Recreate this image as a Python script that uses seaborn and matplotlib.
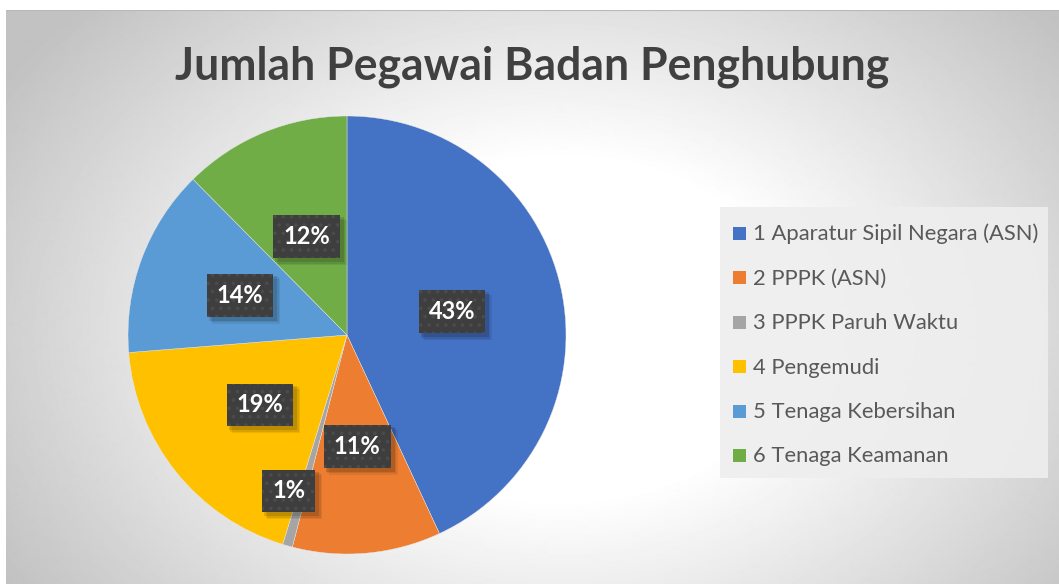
import numpy as np
import matplotlib
matplotlib.use("Agg")
import matplotlib.pyplot as plt
import seaborn as sns
from matplotlib.patches import Rectangle
from matplotlib.transforms import IdentityTransform

# ---- data ----
title = "Jumlah Pegawai Badan Penghubung"
categories = ["1 Aparatur Sipil Negara (ASN)", "2 PPPK (ASN)", "3 PPPK Paruh Waktu",
              "4 Pengemudi", "5 Tenaga Kebersihan", "6 Tenaga Keamanan"]
counts = [59, 15, 1, 26, 19, 17]
colors = ["#4472C4", "#ED7D31", "#A5A5A5", "#FFC000", "#5B9BD5", "#70AD47"]

# ---- style ----
sns.set_style("white")
plt.rcParams['font.family'] = ['Lato', 'DejaVu Sans']
plt.rcParams['hatch.linewidth'] = 1.4
palette = sns.color_palette(colors)

W, H = 1059, 585
fig = plt.figure(figsize=(W / 100, H / 100), dpi=100)
fig.patch.set_facecolor('white')
renderer = fig.canvas.get_renderer()

# ---- background radial gradient (chart area) ----
x0, y0 = 6, 10
bw, bh = W - x0, H - y0
bg = fig.add_axes([x0 / W, 0, bw / W, bh / H])
yy, xx = np.mgrid[0:bh, 0:bw]
cx, cy = 560 - x0, 330 - y0
r = np.sqrt(((xx - cx) / 520.0) ** 2 + ((yy - cy) / 380.0) ** 2)
t = np.clip((r - 0.45) / 0.8, 0, 1)
v = 1.0 - 0.24 * t
bg.imshow(v, cmap='gray', vmin=0, vmax=1, aspect='auto', interpolation='bilinear')
bg.axhline(0, color='#b8b8b8', lw=1.5)
bg.set_xlim(0, bw)
bg.set_ylim(bh, 0)
bg.axis('off')

# ---- title ----
tt = fig.text(532 / W, 1 - 80 / H, title, ha='center', va='baseline',
              fontsize=30, fontweight='bold', color='#404040')
bb = tt.get_window_extent(renderer)
tt.set_fontsize(30 * 713 / bb.width)

# ---- legend (pixel-coordinate overlay) ----
lax = fig.add_axes([0, 0, 1, 1])
lax.set_xlim(0, W)
lax.set_ylim(H, 0)
lax.axis('off')
lax.add_patch(Rectangle((720, 207), 328, 271, facecolor='#eeeeee', alpha=0.9,
                        edgecolor='none'))
row0, step = 233, 44.5
texts = []
for i, (lab, col) in enumerate(zip(categories, palette)):
    yc = row0 + i * step
    lax.add_patch(Rectangle((733, yc - 6.5), 13, 13, facecolor=col, edgecolor='none'))
    texts.append(lax.text(753, yc + 1, lab, ha='left', va='center', fontsize=15,
                          color='#595959'))
bb = texts[0].get_window_extent(renderer)
fs = 15 * 286 / bb.width
for tx in texts:
    tx.set_fontsize(fs)

# ---- pie ----
R, pcx, pcy = 219, 347, 335
ax = fig.add_axes([(pcx - R) / W, (H - pcy - R) / H, 2 * R / W, 2 * R / H])
wedges, _ = ax.pie(counts, colors=palette, startangle=90, counterclock=False,
                   radius=1, wedgeprops=dict(linewidth=0.3, edgecolor='#e8e8e8'))
ax.set_xlim(-1, 1)
ax.set_ylim(-1, 1)
ax.axis('off')

total = float(sum(counts))
label_dist = [0.49, 0.51, 0.76, 0.51, 0.52, 0.485]
label_shift = [0, 0, -4.7, 0, 0, 0]
labels = []
for w, c, d, s in zip(wedges, counts, label_dist, label_shift):
    ang = np.deg2rad((w.theta1 + w.theta2) / 2 + s)
    lx, ly = d * np.cos(ang), d * np.sin(ang)
    txt = f"{c / total * 100:.0f}%"
    labels.append(ax.text(lx, ly, txt, ha='center', va='center', fontsize=17,
                          fontweight='bold', color='white',
                          bbox=dict(boxstyle='square,pad=0.42', facecolor='#3e3e3e',
                                    edgecolor='#4b4b4b', hatch='..', linewidth=0),
                          zorder=5))

# soft drop shadows under the label boxes (display pixels)
fig.canvas.draw()
for lb in labels:
    e = lb.get_bbox_patch().get_window_extent(renderer)
    for k, a in ((6, 0.07), (4.5, 0.09), (3, 0.12)):
        ax.add_patch(Rectangle((e.x0 + k - 1, e.y0 - k - 1), e.width + 2, e.height + 2,
                               transform=IdentityTransform(), facecolor='black',
                               alpha=a, edgecolor='none', zorder=4))

fig.savefig("out.png", dpi=100, facecolor=fig.get_facecolor())
